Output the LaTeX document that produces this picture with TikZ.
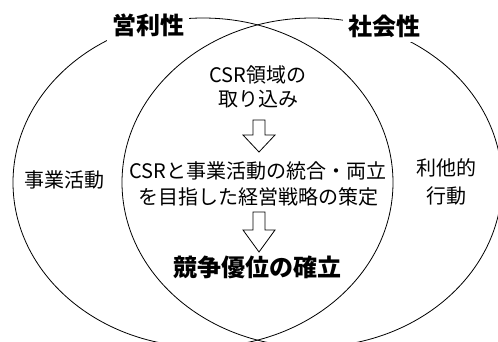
\documentclass[tikz,border=0pt]{standalone}
\usepackage{fontspec}
\setmainfont{Noto Sans CJK JP}
\begin{document}
\begin{tikzpicture}[x=1pt,y=-1pt,
  venn/.style={draw=black,line width=0.8pt},
  lbl/.style={font=\fontsize{20}{25}\selectfont,align=center,inner sep=0pt},
  head/.style={font=\fontsize{24}{28}\selectfont\bfseries,fill=white,inner sep=5pt},
  big/.style={font=\fontsize{24}{28}\selectfont\bfseries,inner sep=0pt},
  blockarrow/.style={draw=black,line width=0.8pt,fill=white,line join=miter}]
\useasboundingbox (0,0) rectangle (498,341);
\begin{scope}
\clip (0,0) rectangle (498,341);
\draw[venn] (203,182.5) ellipse [x radius=190pt, y radius=164.5pt];
\draw[venn] (312,182.5) ellipse [x radius=190pt, y radius=164.5pt];
\end{scope}
\node[head] (eiri) at (148,25) {営利性};
\node[head] (shakai) at (384,26) {社会性};
\node[lbl] (jigyo) at (64,180) {事業活動};
\node[lbl,font=\fontsize{20}{28}\selectfont] (rita) at (446,182) {利他的\\行動};
\node[lbl,font=\fontsize{20}{24.5}\selectfont] (torikomi) at (258,87) {CSR領域の\\取り込み};
\node[lbl,font=\fontsize{20}{26}\selectfont] (senryaku) at (258,184) {CSRと事業活動の統合・両立\\を目指した経営戦略の策定};
\node[big] (kyoso) at (257,267) {競争優位の確立};
\draw[blockarrow] (253,120) -- (253,135) -- (243,135) -- (259,152) -- (275,135) -- (265,135) -- (265,120) -- cycle;
\draw[blockarrow] (253,212) -- (253,230) -- (243,230) -- (259,252) -- (275,230) -- (265,230) -- (265,212) -- cycle;
\end{tikzpicture}
\end{document}
